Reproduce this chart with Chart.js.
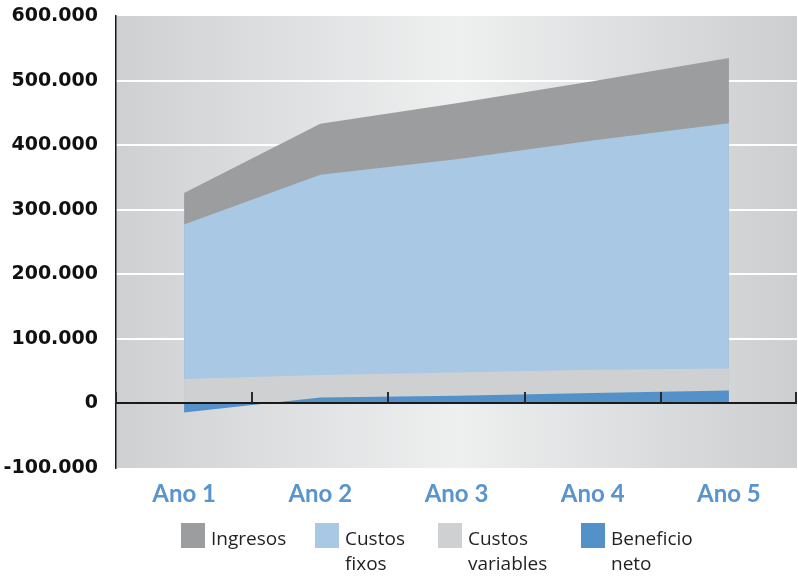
<!DOCTYPE html>
<html>
<head>
<meta charset="utf-8">
<title>Ingresos e custos</title>
<script src="https://cdn.jsdelivr.net/npm/chart.js@4.4.1/dist/chart.umd.min.js"></script>
<style>
  body { margin: 0; background: #fff; }
  #wrap { position: relative; width: 798px; height: 576px; }
  #legenda { position: absolute; left: 0; top: 0; font-family: "Open Sans", sans-serif; font-size: 19px; color: #231f20; }
  .item { position: absolute; top: 522px; }
  .caixa { position: absolute; left: 0; top: 1px; width: 24px; height: 25px; }
  .texto { position: absolute; left: 30px; top: 4px; line-height: 25px; white-space: pre; }
</style>
</head>
<body>
<div id="wrap">
  <canvas id="grafico" width="798" height="576"></canvas>
  <div id="legenda"></div>
</div>
<script>
// anos e series
var anos = ['Ano 1', 'Ano 2', 'Ano 3', 'Ano 4', 'Ano 5'];
var ingresos = [326000, 433000, 465000, 499000, 535000];
var custosFixos = [277000, 354000, 378000, 407000, 434000];
var custosVariables = [38000, 44000, 48000, 52000, 54000];
var beneficioNeto = [-14000, 9000, 12000, 16000, 20000];

var nomes = ['Ingresos', 'Custos fixos', 'Custos variables', 'Beneficio neto'];
var cores = ['#9c9d9f', '#a9c8e4', '#cfd0d2', '#5591c9'];
var legendaX = [181, 315, 438, 581];

// eixo y: -100.000 .. 600.000
var yMin = -100000, yMax = 600000, yPasso = 100000;

function formatoMilhar(v) {
  var s = String(Math.abs(v)).replace(/\B(?=(\d{3})+(?!\d))/g, '.');
  return (v < 0 ? '-' : '') + s;
}

// fundo cinzento com gradiente horizontal
var fundoPlot = {
  id: 'fundoPlot',
  beforeDraw: function (chart) {
    var ctx = chart.ctx, a = chart.chartArea;
    var g = ctx.createLinearGradient(a.left, 0, a.right, 0);
    g.addColorStop(0, '#cfd0d2');
    g.addColorStop(0.5, '#eeefef');
    g.addColorStop(1, '#cdced0');
    ctx.save();
    ctx.fillStyle = g;
    ctx.fillRect(a.left, a.top, a.right - a.left, a.bottom - a.top);
    ctx.restore();
  }
};

// linha do zero com as marcas entre anos
var linhaZero = {
  id: 'linhaZero',
  afterDatasetsDraw: function (chart) {
    var ctx = chart.ctx, a = chart.chartArea;
    var x = chart.scales.x, y = chart.scales.y;
    var y0 = Math.round(y.getPixelForValue(0));
    ctx.save();
    ctx.strokeStyle = '#1a1a1a';
    ctx.lineWidth = 2;
    ctx.beginPath();
    ctx.moveTo(a.left, y0);
    ctx.lineTo(a.right, y0);
    ctx.stroke();
    var marcas = [a.left];
    for (var i = 1; i < anos.length; i++) {
      marcas.push((x.getPixelForTick(i - 1) + x.getPixelForTick(i)) / 2);
    }
    marcas.push(a.right - 1);
    ctx.strokeStyle = '#2a2a2a';
    ctx.beginPath();
    marcas.forEach(function (px) {
      px = Math.round(px);
      ctx.moveTo(px, y0 - 11);
      ctx.lineTo(px, y0);
    });
    ctx.stroke();
    ctx.restore();
  }
};

var series = [ingresos, custosFixos, custosVariables, beneficioNeto];
var datasets = series.map(function (dados, i) {
  return {
    label: nomes[i],
    data: dados,
    backgroundColor: cores[i],
    borderColor: cores[i],
    borderWidth: 0,
    pointRadius: 0,
    fill: 'origin',
    tension: 0,
    order: series.length - i
  };
});

new Chart(document.getElementById('grafico'), {
  type: 'line',
  data: { labels: anos, datasets: datasets },
  options: {
    responsive: false,
    animation: false,
    layout: { padding: { top: 16, right: 1, left: 0, bottom: 0 } },
    plugins: {
      legend: { display: false },
      tooltip: { enabled: false }
    },
    scales: {
      x: {
        offset: true,
        border: { display: false },
        grid: { display: false, drawTicks: false },
        ticks: {
          color: '#5a94cc',
          padding: 12,
          font: { family: 'Lato', weight: 'bold', size: 24 }
        },
        afterFit: function (s) { s.height = 108; }
      },
      y: {
        min: yMin,
        max: yMax,
        border: { display: true, color: '#1a1a1a', width: 1.5 },
        grid: {
          drawTicks: false,
          lineWidth: 2,
          color: function (c) {
            var v = c.tick ? c.tick.value : 0;
            return (v > 0 && v < yMax) ? '#ffffff' : 'rgba(0,0,0,0)';
          }
        },
        ticks: {
          stepSize: yPasso,
          padding: 18,
          color: '#111',
          font: { family: 'DejaVu Sans', weight: 'bold', size: 19 },
          callback: function (v) { return formatoMilhar(v); }
        },
        afterFit: function (s) {
          s.width = 116;
          s.paddingTop = 0;
          s.paddingBottom = 0;
        }
      }
    }
  },
  plugins: [fundoPlot, linhaZero]
});

// legenda em HTML (rotulos em duas linhas)
var leg = document.getElementById('legenda');
nomes.forEach(function (nome, i) {
  var item = document.createElement('div');
  item.className = 'item';
  item.style.left = legendaX[i] + 'px';
  var caixa = document.createElement('div');
  caixa.className = 'caixa';
  caixa.style.background = cores[i];
  var texto = document.createElement('div');
  texto.className = 'texto';
  texto.textContent = nome.replace(' ', '\n');
  item.appendChild(caixa);
  item.appendChild(texto);
  leg.appendChild(item);
});
</script>
</body>
</html>
